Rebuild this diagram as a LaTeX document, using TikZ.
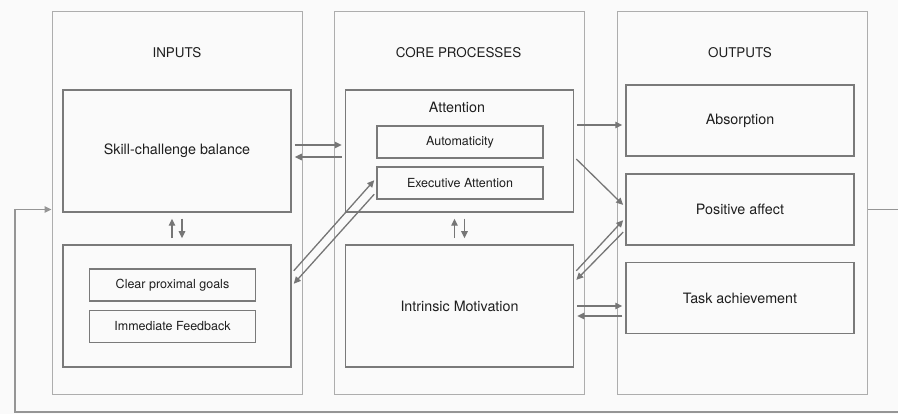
\documentclass[tikz,border=0pt]{standalone}
\usepackage{fontspec}
\setmainfont{TeX Gyre Heros}
\usetikzlibrary{arrows.meta}

\definecolor{framegray}{HTML}{ADADAD}
\definecolor{boxgray}{HTML}{7A7A7A}
\definecolor{arrowgray}{HTML}{767676}
\definecolor{loopgray}{HTML}{959595}
\definecolor{inkgray}{HTML}{1E1E1E}
\definecolor{paper}{HTML}{FAFAFA}

\begin{document}
\begin{tikzpicture}[x=1pt,y=-1pt,>={Triangle[length=7pt,width=6.5pt]},node distance=282.75pt,
	col/.style={draw=framegray,line width=1pt,minimum width=250pt,minimum height=383pt,inner sep=0pt},
	box/.style={draw=boxgray,line width=1.5pt,minimum width=228pt,minimum height=122pt,inner sep=0pt,font=\fontsize{14.3}{16}\selectfont,text=inkgray},
	outbox/.style={box,minimum height=71pt},
	subbox/.style={draw=boxgray,line width=1.5pt,minimum width=166pt,minimum height=32pt,inner sep=0pt,font=\fontsize{12.5}{14}\selectfont,text=inkgray},
	heading/.style={font=\fontsize{13.4}{15}\selectfont,text=inkgray},
	link/.style={->,color=arrowgray,line width=1.3pt,shorten >=3pt,shorten <=3pt}]

\fill[paper] (0,0) rectangle (898,414);
\useasboundingbox (0,0) rectangle (898,414);

% the three columns
\node[col]   (incol)   at (177,203.5)   {};
 \node[col]   (corecol) [right of=incol]   {};
	\node[col]   (outcol)  [right of=corecol]  {};

\node[heading]   (inhead)   at (177,53)     {INPUTS};
\node[heading]   (corehead) at (458.5,53)   {CORE PROCESSES};
\node[heading]   (outhead)  at (740,53)     {OUTPUTS};

% inputs
\node[box]   (skill)  at (177,151)   {Skill-challenge balance};
\node[box]   (inbox)  at (177,306)   {};
	\node[subbox]   (goals)    at (172.5,285)    {Clear proximal goals};
	\node[subbox]   (feedback) at (172.5,326.5)  {Immediate Feedback};

% core processes
\node[box]   (attn)   at (459.5,151)   {};
	\node[box,draw=none,minimum size=0pt]   (attnlbl) at (457,107)   {Attention};
	\node[subbox]   (auto)   at (460,142)   {Automaticity};
	\node[subbox]   (exec)   at (460,183)   {Executive Attention};
\node[box]   (motiv)  at (459.5,306)   {Intrinsic Motivation};

% outputs
\node[outbox]   (absorb)  at (740,120.5)   {Absorption};
\node[outbox]   (affect)  at (740,209.5)   {Positive affect};
\node[outbox]   (task)    at (740,298)     {Task achievement};

\path[link] ([yshift=6pt]skill.east)   edge   ([yshift=6pt]attn.west)
				([yshift=-6pt]attn.west)   edge   ([yshift=-6pt]skill.east)
				([yshift=33pt]inbox.east)   edge   ([yshift=5pt]exec.west)
				([yshift=-9pt]exec.west)   edge   ([yshift=20pt]inbox.east)

				([yshift=26pt]attn.east)   edge   ([yshift=26pt]attn.east -| absorb.west)
				([yshift=-6pt]attn.east)   edge   ([yshift=2.5pt]affect.west)
				([yshift=33pt]motiv.east)   edge   ([yshift=-8.5pt]affect.west)
				([yshift=-20.5pt]affect.west)   edge   ([yshift=24pt]motiv.east)
				(motiv.east)   edge   (motiv.east -| task.west)
				([yshift=-10pt]motiv.east -| task.west)   edge   ([yshift=-10pt]motiv.east)

				([xshift=-5pt]inbox.north)   edge[shorten >=6pt,shorten <=6pt]   ([xshift=-5pt]skill.south)
				([xshift=5pt]skill.south)   edge[shorten >=6pt,shorten <=6pt]   ([xshift=5pt]inbox.north)
				([xshift=-5pt]motiv.north)   edge[shorten >=6pt,shorten <=6pt]   ([xshift=-5pt]attn.south)
				([xshift=5pt]attn.south)   edge[shorten >=6pt,shorten <=6pt]   ([xshift=5pt]motiv.north);

% feedback loop
\coordinate (loopR) at (900,412);
\coordinate (loopL) at (15,412);
\draw[->,color=loopgray,line width=1.2pt] (outcol.east |- affect.east) -| (loopR) -- (loopL) |- ([yshift=-6pt]incol.west);

\end{tikzpicture}
\end{document}
